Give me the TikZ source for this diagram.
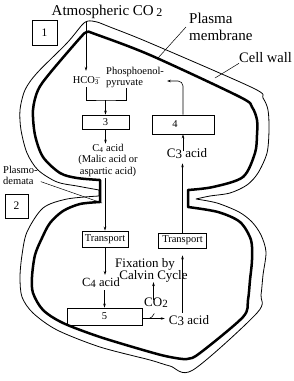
\documentclass[tikz,border=0pt]{standalone}
\usepackage{fontspec}
\setmainfont{Liberation Serif}
\usepackage{tikz}
\usetikzlibrary{arrows.meta}
\tikzset{
  membrane/.style={line width=2.5pt, line join=round},
  wall/.style={line width=0.8pt, line join=round},
  numbox/.style={draw, line width=0.6pt, inner sep=0pt, font=\fontsize{10.5}{12}\selectfont},
  tbox/.style={numbox, minimum width=46pt, minimum height=16pt},
  flow/.style={line width=0.6pt},
  lead/.style={line width=0.5pt},
  lbl/.style={inner sep=0pt, font=\fontsize{13}{15}\selectfont},
  small/.style={inner sep=0pt, font=\fontsize{10.5}{11.5}\selectfont},
}

\begin{document}
\begin{tikzpicture}[x=1pt, y=-1pt, >={Stealth[length=4pt,width=2.6pt]}]
\useasboundingbox (0,0) rectangle (294,381);

% plasma membrane
\draw[membrane] plot[smooth, tension=0.5] coordinates {(100,180) (77,178) (60,173) (43,157) (35,135) (33,110) (38,90) (50,73) (80,38) (87,32) (95,34) (150,55) (240,97) (252,107) (257,120) (257,135) (255,153) (243,177) (213,187) (188,190)}
  -- plot[smooth, tension=0.5] coordinates {(188,207) (218,212) (240,222) (251,240) (252,260) (250,280) (248,300) (243,317) (200,353) (187,359) (170,357) (150,352) (100,337) (63,323) (43,310) (33,293) (32,277) (35,255) (42,238) (50,223) (63,211) (80,204) (100,202)} -- cycle;
% cell wall
\draw[wall] plot[smooth, tension=0.5] coordinates {(99,190) (77,186) (57,182) (38,170) (27,153) (21,130) (20,110) (25,90) (37,73) (67,43) (82,25) (88,21) (97,22) (110,27) (150,43) (253,88) (263,98) (268,110) (269,130) (267,153) (258,173) (247,185) (230,193) (210,196) (196,199)}
  -- plot[smooth, tension=0.5] coordinates {(196,199) (217,203) (239,212) (252,222) (261,235) (266,252) (263,275) (261,295) (257,313) (193,370) (170,366) (150,360) (100,347) (57,330) (33,313) (22,297) (20,277) (22,255) (27,232) (43,208) (67,199) (99,196)} -- cycle;

% labels outside
\node[lbl, font=\fontsize{15}{17}\selectfont] (atm) at (107,12) {Atmospheric CO\,\raisebox{-1pt}{\fontsize{12}{12}\selectfont 2}};
\node[lbl, font=\fontsize{15}{17}\selectfont, align=left, anchor=west] (pm) at (189,27) {Plasma\\membrane};
\node[lbl, font=\fontsize{14.5}{17}\selectfont, anchor=west] (cw) at (239,58) {Cell wall};
\node[small, align=left, anchor=north west] (pd) at (3,166) {Plasmo-\\demata};
\coordinate (pmend) at (158,58);
\coordinate (cwend) at (215,78);
\coordinate (pdend) at (102,203);
\draw[lead] ([xshift=-3pt]pm.west) -- (pmend);
\draw[lead] (cw.south west) -- (cwend);
\draw[lead] ([xshift=3pt,yshift=-6pt]pd.east) -- (pdend);

\node[numbox, minimum width=25pt, minimum height=25pt, font=\fontsize{11.5}{12}\selectfont] (b1) at (44.5,32.5) {1};
\node[numbox, minimum width=23pt, minimum height=24pt, font=\fontsize{11.5}{12}\selectfont] (b2) at (16.5,206) {2};

% upper cell
\node[small] (hco) at (86,80) {HCO\rlap{\textsuperscript{$-$}}\textsubscript{3}};
\node[small, align=left, anchor=north west] (pep) at (106,67) {Phosphoenol-\\pyruvate};
\node[numbox, minimum width=47pt, minimum height=14pt] (b3) at (105.5,122) {3};
\node[numbox, minimum width=62pt, minimum height=19pt] (b4) at (183,124.5) {4\hspace*{16pt}};
\node[small, align=center] (c4a) at (108,160) {C\textsubscript{4} acid\\(Malic acid or\\aspartic acid)};
\node[lbl] (c3a) at (187,154) {C\raisebox{-1pt}{3} acid};
\coordinate (brk) at (105.5,100);
\coordinate (pyr) at (126,88);
\coordinate (pepin) at (167,81);

\draw[flow, ->] ([yshift=-2pt]atm.south -| hco) -- ([yshift=4pt]hco.north);
\draw[flow] ([yshift=-2pt]hco.south) |- (brk) -| (pyr);
\draw[flow, ->] (brk) -- (b3);
\draw[flow, ->] (b3.south) -- (b3.south |- c4a.north);
\draw[flow, ->, rounded corners=5pt] (b4.north) |- (pepin);
\draw[flow, ->] ([yshift=-2pt]c3a.north -| b4) -- (b4);

% transport
\node[tbox] (tl) at (105,239) {Transport};
\node[tbox, minimum width=48pt, minimum height=15pt] (tr) at (182.5,240.5) {Transport};
\draw[flow, ->] ([yshift=-2pt]c4a.south -| tl) -- (tl);
\draw[flow, ->, shorten >=4pt] (tr) -- (tr |- c3a.south);

% lower cell
\node[lbl, font=\fontsize{12.5}{15}\selectfont] (c4b) at (101,283) {C\raisebox{-1pt}{\fontsize{11}{11}\selectfont 4} acid};
\node[lbl] (fix) at (145,264) {Fixation by};
\node[lbl] (calv) at (153.5,276) {Calvin Cycle};
\node[lbl] (co2) at (156,303) {CO\raisebox{-1pt}{\fontsize{11}{11}\selectfont 2}};
\node[numbox, minimum width=75pt, minimum height=17pt] (b5) at (104.5,316.5) {5};
\node[lbl] (c3b) at (189,321) {C\raisebox{-1pt}{3} acid};

\draw[flow, ->] (tl) -- ([yshift=3pt]tl |- c4b.north);
\draw[flow, ->] ([yshift=-2pt]c4b.south -| b5) -- (b5);
\draw[flow, ->, shorten >=4pt] ([yshift=-2pt]b5.east) -- ([yshift=-2pt]b5.east -| c3b.west);
\draw[flow] ([xshift=7pt,yshift=-2pt]b5.east) to[out=0, in=-135] ++(5,-5);
\draw[flow, ->] ([yshift=-2pt]co2.north -| calv) -- (calv.south);
\draw[flow, ->, shorten <=3pt, shorten >=7pt] (c3b.north -| tr) -- (tr);

\end{tikzpicture}
\end{document}
